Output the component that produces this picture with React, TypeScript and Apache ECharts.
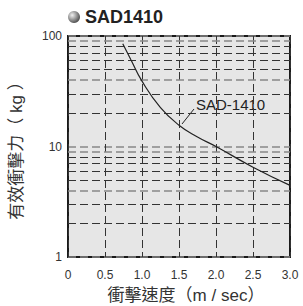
import React, { useEffect, useRef } from "react";
import * as echarts from "echarts";

const speeds = [0.74, 0.85, 1.0, 1.25, 1.5, 1.75, 2.0, 2.5, 3.0];
const forces = [85, 61, 39, 22.5, 15.6, 12.2, 10, 6.5, 4.45];
const xTicks = [0, 0.5, 1.0, 1.5, 2.0, 2.5, 3.0];
const minorDark = [2, 3, 5, 6, 7, 8, 20, 30, 50, 60, 70, 80];
const minorGray = [4, 9, 40, 90];
const seriesName = "SAD-1410";
const title = "SAD1410";
const xName = "衝擊速度（m / sec）";
const yName = "有效衝擊力（ kg ）";

const FONT = "Liberation Sans, Arial, Noto Sans CJK TC, sans-serif";

export default function App() {
  const ref = useRef<HTMLDivElement>(null);
  useEffect(() => {
    if (!ref.current) return;
    const chart = echarts.init(ref.current, null, { renderer: "svg" });
    const dash = [8, 4];
    chart.setOption({
      animation: false,
      grid: {
        left: 68,
        right: 13,
        top: 36,
        bottom: 49,
        show: true,
        containLabel: false,
        outerBoundsMode: "none",
        backgroundColor: "#e6e6e6",
        borderColor: "#1a1a1a",
        borderWidth: 2,
      },
      xAxis: {
        type: "value",
        min: 0,
        max: 3,
        interval: 0.5,
        name: xName,
        nameLocation: "middle",
        nameGap: 30,
        nameTextStyle: { fontFamily: FONT, fontSize: 17, color: "#333", padding: [0, 0, 0, 14] },
        axisLine: { show: false },
        axisTick: { show: false },
        axisLabel: {
          margin: 12,
          fontFamily: FONT,
          fontSize: 12,
          color: "#333",
          formatter: (v: number) => (xTicks.includes(v) ? (v === 0 ? "0" : v.toFixed(1)) : ""),
        },
        splitLine: { show: true, lineStyle: { type: dash, color: "#333", width: 1 } },
      },
      yAxis: {
        type: "log",
        logBase: 10,
        min: 1,
        max: 100,
        name: yName,
        nameLocation: "middle",
        nameRotate: 90,
        nameGap: 43,
        nameTextStyle: { fontFamily: FONT, fontSize: 17, color: "#333" },
        axisLine: { show: false },
        axisTick: { show: false },
        axisLabel: { margin: 6, fontFamily: FONT, fontSize: 12, color: "#333" },
        splitLine: { show: true, lineStyle: { type: dash, color: "#888", width: 1.5 } },
        minorSplitLine: { show: false },
      },
      graphic: [
        {
          type: "circle",
          shape: { cx: 74, cy: 17, r: 6 },
          style: {
            fill: new echarts.graphic.RadialGradient(0.35, 0.35, 0.8, [
              { offset: 0, color: "#f0f0f0" },
              { offset: 1, color: "#333" },
            ]),
          },
        },
        {
          type: "text",
          x: 85,
          y: 17,
          style: {
            text: title,
            fontFamily: FONT,
            fontWeight: "bold",
            fontSize: 18,
            fill: "#222",
            verticalAlign: "middle",
          },
        },
        {
          type: "line",
          shape: { x1: 182, y1: 124, x2: 194, y2: 109 },
          style: { stroke: "#222", lineWidth: 1 },
        },
        {
          type: "text",
          x: 196,
          y: 104,
          style: {
            text: seriesName,
            fontFamily: FONT,
            fontSize: 15,
            fill: "#222",
            verticalAlign: "middle",
          },
        },
      ],
      series: [
        {
          name: seriesName,
          type: "line",
          data: speeds.map((s, i) => [s, forces[i]]),
          smooth: true,
          showSymbol: false,
          lineStyle: { color: "#222", width: 1.2 },
          z: 5,
          markLine: {
            silent: true,
            symbol: "none",
            label: { show: false },
            z: 1,
            data: [
              ...minorDark.map((v) => ({ yAxis: v, lineStyle: { type: dash, color: "#333", width: 1 } })),
              ...minorGray.map((v) => ({ yAxis: v, lineStyle: { type: dash, color: "#888", width: 1.5 } })),
            ],
          },
        },
      ],
    });
    return () => chart.dispose();
  }, []);
  return (
    <div
      ref={ref}
      style={{ position: "absolute", left: 0, top: 0, width: 303, height: 306 }}
    />
  );
}
